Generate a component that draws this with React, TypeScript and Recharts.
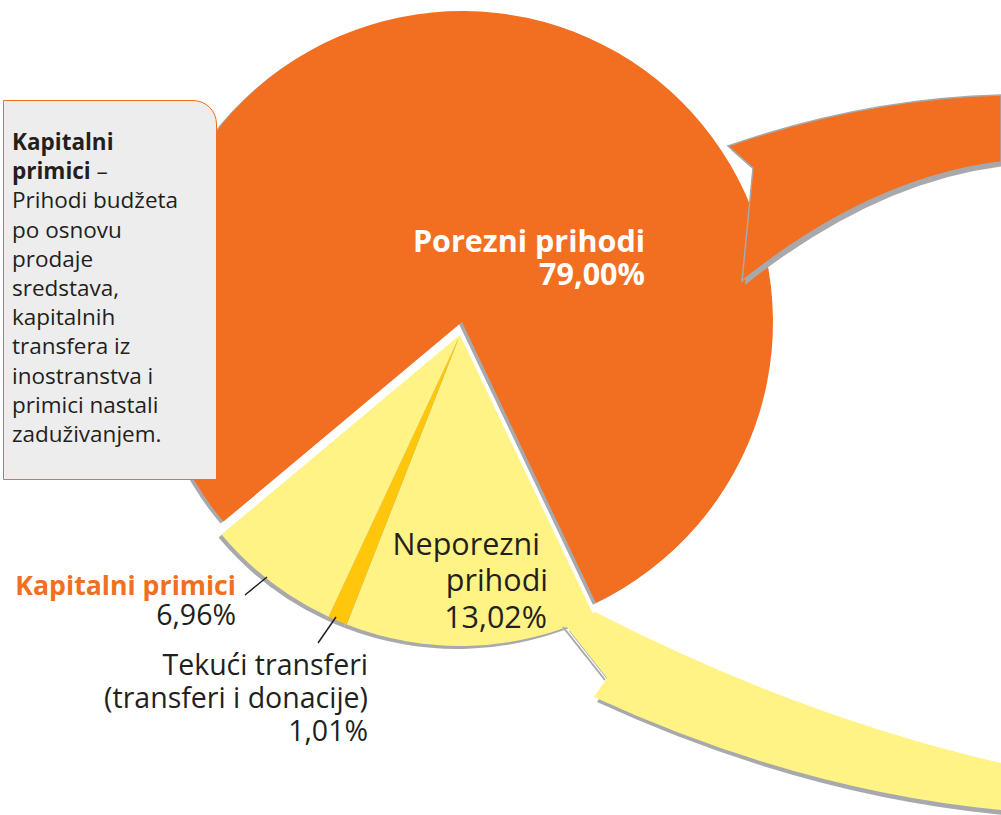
import { Cell, Pie, PieChart } from 'recharts';

const categories = ['Neporezni prihodi', 'Tekući transferi (transferi i donacije)', 'Kapitalni primici', 'Porezni prihodi'];
const shares = [13.02, 1.01, 6.96, 79.0];
const shareLabels = ['13,02%', '1,01%', '6,96%', '79,00%'];
const sliceColors = ['#FFF386', '#FFC60B', '#FFF386', '#F26F21'];
const exploded = [false, false, false, true];

const noteTitle = ['Kapitalni', 'primici'];
const noteBody = ['Prihodi budžeta', 'po osnovu', 'prodaje', 'sredstava,', 'kapitalnih', 'transfera iz', 'inostranstva i', 'primici nastali', 'zaduživanjem.'];

const ORANGE = '#F26F21';
const GREY = '#A7A9AC';
const INK = '#231F20';
const FONT = '"Open Sans", "Noto Sans", sans-serif';

const data = categories.map((name, i) => ({ name, value: shares[i] }));

// pie geometry
const R = 311;
const START = -64.5;
const END = START - 360;

function PieLayer({ cx, cy, pick, fill }: { cx: number; cy: number; pick: boolean; fill?: string }) {
  return (
    <Pie
      data={data}
      dataKey="value"
      cx={cx}
      cy={cy}
      outerRadius={R}
      startAngle={START}
      endAngle={END}
      stroke="none"
      label={false}
      labelLine={false}
      isAnimationActive={false}
    >
      {data.map((d, i) => (
        <Cell key={d.name} fill={exploded[i] === pick ? fill ?? sliceColors[i] : 'transparent'} />
      ))}
    </Pie>
  );
}

export default function App() {
  return (
    <div style={{ position: 'absolute', left: 0, top: 0, width: 1001, height: 815, background: '#fff', fontFamily: FONT }}>
      <PieChart width={1001} height={815} margin={{ top: 0, right: 0, bottom: 0, left: 0 }} style={{ position: 'absolute', left: 0, top: 0 }}>
        {PieLayer({ cx: 459, cy: 324, pick: true, fill: GREY })}
        {PieLayer({ cx: 462, cy: 322, pick: true })}
        {PieLayer({ cx: 457, cy: 338, pick: false, fill: GREY })}
        {PieLayer({ cx: 460, cy: 335, pick: false })}
      </PieChart>

      <svg width={1001} height={815} style={{ position: 'absolute', left: 0, top: 0 }}>
        {/* orange callout band */}
        <path d="M 728 146 Q 864.5 98.5 1001 95 L 1001 162 Q 871.5 177.7 742 281 L 753 168 Z" fill={GREY} transform="translate(3,4)" />
        <path d="M 728 146 Q 864.5 98.5 1001 95 L 1001 162 Q 871.5 177.7 742 281 L 753 168 Z" fill={ORANGE} stroke={GREY} strokeWidth={1.5} />
        {/* yellow callout band */}
        <path d="M 566 626 L 595 612 Q 798 716 1001 763 L 1001 810 Q 797.5 790.5 594 697 L 607 678 Z" fill={GREY} transform="translate(3,5)" />
        <line x1={563} y1={627} x2={605} y2={680} stroke={GREY} strokeWidth={2} />
        <path d="M 566 626 L 595 612 Q 798 716 1001 763 L 1001 810 Q 797.5 790.5 594 697 L 607 678 Z" fill={sliceColors[0]} />

        {/* slice labels */}
        <g fontFamily={FONT} textAnchor="end">
          <text fill="#fff" fontWeight={700} fontSize={30.5}>
            <tspan x={645} y={252}>{categories[3]}</tspan>
            <tspan x={645} y={285}>{shareLabels[3]}</tspan>
          </text>

          <text fill={INK} fontSize={30.5}>
            <tspan x={540} y={555}>Neporezni</tspan>
            <tspan x={548} y={591}>prihodi</tspan>
            <tspan x={547} y={628}>{shareLabels[0]}</tspan>
          </text>

          <text fontSize={26.7}>
            <tspan x={236} y={595} fill={ORANGE} fontWeight={700}>{categories[2]}</tspan>
            <tspan x={236} y={625} fill={INK} fontSize={28.5}>{shareLabels[2]}</tspan>
          </text>

          <text fill={INK} fontSize={28.5}>
            <tspan x={368} y={675}>Tekući transferi</tspan>
            <tspan x={368} y={708}>(transferi i donacije)</tspan>
            <tspan x={368} y={741}>{shareLabels[1]}</tspan>
          </text>
        </g>
        <line x1={245} y1={595} x2={267} y2={577} stroke={INK} strokeWidth={1.5} />
        <line x1={318} y1={643} x2={336} y2={617} stroke={INK} strokeWidth={1.5} />
      </svg>

      <div
        style={{
          position: 'absolute',
          left: 3,
          top: 100,
          width: 214,
          height: 380,
          boxSizing: 'border-box',
          background: '#EDEDED',
          border: `1px solid ${ORANGE}`,
          borderTopRightRadius: 24,
          padding: '26px 0 0 8px',
          fontSize: 22.5,
          lineHeight: '29.2px',
          color: INK,
        }}
      >
        <b>{noteTitle[0]}</b>
        <br />
        <b>{noteTitle[1]}</b> –
        {noteBody.map((t) => (
          <span key={t}>
            <br />
            {t}
          </span>
        ))}
      </div>
    </div>
  );
}
